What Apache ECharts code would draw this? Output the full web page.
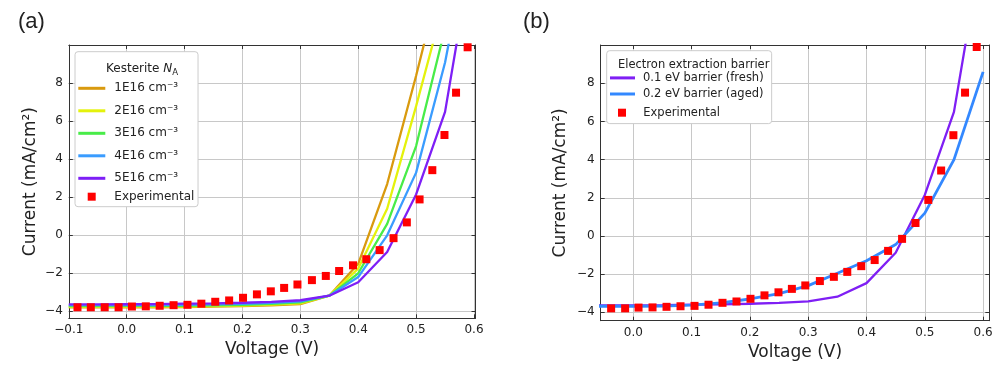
<!DOCTYPE html>
<html>
<head>
<meta charset="utf-8">
<script src="https://cdn.jsdelivr.net/npm/echarts@6/dist/echarts.min.js"></script>
<style>
html,body{margin:0;padding:0;background:#fff;}
#chart{width:1000px;height:366px;}
</style>
</head>
<body>
<div id="chart"></div>
<script>
// ---------- data ----------
const simV = [-0.1, -0.05, 0.0, 0.05, 0.1, 0.15, 0.2, 0.25, 0.3, 0.35, 0.4, 0.45, 0.5, 0.55, 0.6];
const na1E16 = [-3.80, -3.80, -3.79, -3.79, -3.78, -3.76, -3.73, -3.69, -3.62, -3.18, -1.50, 2.70, 8.40, 14.5, 21.0];
const na2E16 = [-3.77, -3.77, -3.76, -3.76, -3.75, -3.73, -3.70, -3.65, -3.58, -3.18, -1.75, 1.40, 6.80, 12.5, 19.0];
const na3E16 = [-3.73, -3.73, -3.72, -3.72, -3.71, -3.69, -3.66, -3.61, -3.53, -3.18, -2.00, 0.60, 4.70, 10.9, 18.0];
const na4E16 = [-3.68, -3.68, -3.67, -3.67, -3.66, -3.64, -3.61, -3.56, -3.48, -3.18, -2.20, 0.00, 3.30, 9.10, 17.0];
const na5E16 = [-3.64, -3.64, -3.63, -3.62, -3.60, -3.58, -3.55, -3.50, -3.42, -3.18, -2.47, -0.88, 2.15, 6.50, 15.5];
const barrier01 = na5E16;
const barrier02 = [-3.68, -3.68, -3.68, -3.67, -3.62, -3.50, -3.30, -3.02, -2.60, -1.95, -1.30, -0.45, 1.20, 4.00, 8.60];

const expV = [-0.085, -0.062, -0.038, -0.014, 0.009, 0.033, 0.057, 0.081, 0.105, 0.129, 0.153, 0.177, 0.201, 0.225, 0.249, 0.272, 0.295, 0.320, 0.344, 0.367, 0.391, 0.414, 0.437, 0.461, 0.484, 0.506, 0.528, 0.549, 0.569, 0.589];
const expI = [-3.79, -3.79, -3.79, -3.79, -3.75, -3.74, -3.71, -3.68, -3.66, -3.60, -3.50, -3.43, -3.29, -3.11, -2.95, -2.77, -2.59, -2.36, -2.14, -1.88, -1.58, -1.26, -0.78, -0.15, 0.68, 1.89, 3.43, 5.28, 7.51, 9.90];

const xTicksA = [-0.1, 0.0, 0.1, 0.2, 0.3, 0.4, 0.5, 0.6];
const xTicksB = [0.0, 0.1, 0.2, 0.3, 0.4, 0.5, 0.6];
const yTicks = [-4, -2, 0, 2, 4, 6, 8];

const namesA = ['1E16 cm⁻³', '2E16 cm⁻³', '3E16 cm⁻³', '4E16 cm⁻³', '5E16 cm⁻³'];
const namesB = ['0.1 eV barrier (fresh)', '0.2 eV barrier (aged)'];
const expName = 'Experimental';
// ---------- end data ----------

const FONT = 'DejaVu Sans';
const TXT = '#222';
const pair = (xs, ys) => xs.map((x, i) => [x, ys[i]]);
const fmtX = v => (v < 0 ? '\u2212' : '') + Math.abs(v).toFixed(1);
const fmtY = v => (v < 0 ? '\u2212' : '') + Math.abs(v);

function xAx(grid, pos, min, max, ticks, main) {
  return {
    type: 'value', gridIndex: grid, position: pos, min: min, max: max,
    axisLine: { show: true, onZero: false, lineStyle: { color: '#333', width: 1 } },
    axisTick: { show: true, inside: true, length: 4, customValues: ticks, lineStyle: { color: '#333' } },
    axisLabel: main ? { show: true, customValues: ticks, formatter: fmtX, fontFamily: FONT, fontSize: 12, color: TXT, margin: 6 } : { show: false },
    splitLine: main ? { show: true, lineStyle: { color: '#c8c8c8', width: 1 } } : { show: false },
    name: main ? 'Voltage (V)' : '', nameLocation: 'middle', nameGap: 22,
    nameTextStyle: { fontFamily: FONT, fontSize: 17, color: TXT }
  };
}
function yAx(grid, pos, min, max, main, gap) {
  return {
    type: 'value', gridIndex: grid, position: pos, min: min, max: max,
    axisLine: { show: true, onZero: false, lineStyle: { color: '#333', width: 1 } },
    axisTick: { show: true, inside: true, length: 4, customValues: yTicks, lineStyle: { color: '#333' } },
    axisLabel: main ? { show: true, customValues: yTicks, formatter: fmtY, fontFamily: FONT, fontSize: 12, color: TXT, margin: 6 } : { show: false },
    splitLine: main ? { show: true, lineStyle: { color: '#c8c8c8', width: 1 } } : { show: false },
    name: main ? 'Current (mA/cm²)' : '', nameLocation: 'middle', nameGap: gap || 30, nameRotate: 90,
    nameTextStyle: { fontFamily: FONT, fontSize: 17, color: TXT }
  };
}

const colorsA = ['#d99a0e', '#e4f20c', '#48ec48', '#3a9cff', '#7e1ff6'];
const dataA = [na1E16, na2E16, na3E16, na4E16, na5E16];

const series = [];
dataA.forEach((arr, i) => {
  series.push({
    name: namesA[i], type: 'line', xAxisIndex: 0, yAxisIndex: 0,
    data: pair(simV, arr), symbol: 'none', clip: true,
    lineStyle: { color: colorsA[i], width: 2.3 }, itemStyle: { color: colorsA[i] }, z: 2 + i * 0.01
  });
});
series.push({
  name: expName, type: 'scatter', xAxisIndex: 0, yAxisIndex: 0,
  data: pair(expV, expI), symbol: 'rect', symbolSize: 8, clip: true,
  itemStyle: { color: '#ff0000', opacity: 1 }, z: 3
});
series.push({
  name: namesB[0], type: 'line', xAxisIndex: 2, yAxisIndex: 2,
  data: pair(simV, barrier01), symbol: 'none', clip: true,
  lineStyle: { color: '#7f1ff4', width: 2.3 }, itemStyle: { color: '#7f1ff4' }, z: 2
});
series.push({
  name: namesB[1], type: 'line', xAxisIndex: 2, yAxisIndex: 2,
  data: pair(simV, barrier02), symbol: 'none', clip: true,
  lineStyle: { color: '#3388ff', width: 2.8 }, itemStyle: { color: '#3388ff' }, z: 2.01
});
series.push({
  name: expName + ' ', type: 'scatter', xAxisIndex: 2, yAxisIndex: 2,
  data: pair(expV, expI), symbol: 'rect', symbolSize: 8, clip: true,
  itemStyle: { color: '#ff0000', opacity: 1 }, z: 3
});

const legendText = { fontFamily: FONT, color: TXT };
const option = {
  animation: false,
  backgroundColor: '#fff',
  grid: [
    { left: 68.8, right: 524.5, top: 45, bottom: 47.7, containLabel: false },
    { left: 600.7, right: 10.7, top: 45, bottom: 45.3, containLabel: false }
  ],
  xAxis: [
    xAx(0, 'bottom', -0.1, 0.6026, xTicksA, true),
    xAx(0, 'top', -0.1, 0.6026, xTicksA, false),
    xAx(1, 'bottom', -0.0559, 0.6106, xTicksB, true),
    xAx(1, 'top', -0.0559, 0.6106, xTicksB, false)
  ],
  yAxis: [
    yAx(0, 'left', -4.37, 10.02, true, 30),
    yAx(0, 'right', -4.37, 10.02, false),
    yAx(1, 'left', -4.437, 10.005, true, 32),
    yAx(1, 'right', -4.437, 10.005, false)
  ],
  title: [
    { text: '(a)', left: 18, top: 11, padding: 0, textStyle: { fontFamily: 'Liberation Sans', fontSize: 22, fontWeight: 'normal', color: TXT } },
    { text: '(b)', left: 523, top: 11, padding: 0, textStyle: { fontFamily: 'Liberation Sans', fontSize: 22, fontWeight: 'normal', color: TXT } },
    { text: 'Kesterite {i|N}{s|A}', left: 137, textAlign: 'center', top: 56, z: 20,
      textStyle: { fontFamily: FONT, fontSize: 12, fontWeight: 'normal', color: TXT,
        rich: { i: { fontFamily: FONT, fontSize: 12, fontStyle: 'italic', color: TXT }, s: { fontFamily: FONT, fontSize: 8.5, color: TXT, padding: [7, 0, 0, 0] } } } },
    { text: 'Electron extraction barrier', left: 688.7, textAlign: 'center', top: 54, z: 20,
      textStyle: { fontFamily: FONT, fontSize: 11.5, fontWeight: 'normal', color: TXT } }
  ],
  legend: [
    { data: namesA.map(n => ({ name: n, icon: 'rect' })), orient: 'vertical', left: 75, top: 51.7, itemWidth: 27, itemHeight: 3, itemGap: 10.5,
      padding: [30.6, 20, 22.4, 3.3], backgroundColor: '#fff', borderColor: '#cccccc', borderWidth: 1, borderRadius: 3,
      textStyle: Object.assign({ fontSize: 12, padding: [0, 0, 0, 4] }, legendText), selectedMode: false, z: 10 },
    { data: [{ name: expName, icon: 'rect', itemStyle: { color: '#ff0000', opacity: 1 } }], orient: 'vertical', left: 87.7, top: 190.7, itemWidth: 8, itemHeight: 8, padding: 0,
      textStyle: Object.assign({ fontSize: 12, padding: [0, 0, 0, 13.6] }, legendText), selectedMode: false, z: 11 },
    { data: namesB.map(n => ({ name: n, icon: 'rect' })), orient: 'vertical', left: 606.7, top: 50.7, itemWidth: 25, itemHeight: 3, itemGap: 4.1,
      padding: [21.2, 8, 23.6, 3.3], backgroundColor: '#fff', borderColor: '#cccccc', borderWidth: 1, borderRadius: 3,
      textStyle: Object.assign({ fontSize: 11.5, padding: [0, 0, 0, 3] }, legendText), selectedMode: false, z: 10 },
    { data: [{ name: expName + ' ', icon: 'rect', itemStyle: { color: '#ff0000', opacity: 1 } }], orient: 'vertical', left: 618, top: 106.7, itemWidth: 8, itemHeight: 8, padding: 0,
      textStyle: Object.assign({ fontSize: 11.5, padding: [0, 0, 0, 12.3] }, legendText), selectedMode: false, z: 11 }
  ],
  series: series
};
const chart = echarts.init(document.getElementById('chart'), null, { renderer: 'canvas' });
chart.setOption(option);
</script>
</body>
</html>
